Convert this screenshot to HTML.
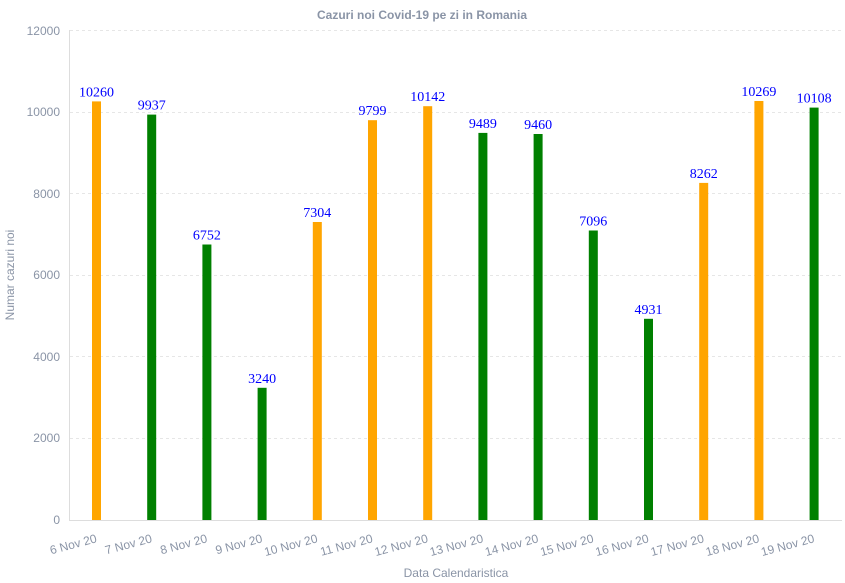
<!DOCTYPE html>
<html><head><style>body{margin:0;background:#fff}svg{display:block}</style></head><body>
<svg width="845" height="583" xmlns="http://www.w3.org/2000/svg">
<text x="422" y="19" text-anchor="middle" font-family="Liberation Sans, sans-serif" font-size="12" font-weight="bold" fill="#8a94a6">Cazuri noi Covid-19 pe zi in Romania</text>
<g stroke="#e6e6e6" stroke-dasharray="3,3" stroke-width="1">
<line x1="70" x2="842" y1="30.5" y2="30.5"/><line x1="70" x2="842" y1="112.5" y2="112.5"/><line x1="70" x2="842" y1="193.5" y2="193.5"/><line x1="70" x2="842" y1="275.5" y2="275.5"/><line x1="70" x2="842" y1="356.5" y2="356.5"/><line x1="70" x2="842" y1="438.5" y2="438.5"/>
</g>
<line x1="69.5" x2="69.5" y1="30" y2="520" stroke="#ddd"/>
<line x1="69" x2="842" y1="520.5" y2="520.5" stroke="#ddd"/>
<g font-family="Liberation Sans, sans-serif" font-size="12" fill="#8a94a6" text-anchor="end">
<text x="60" y="35">12000</text><text x="60" y="116">10000</text><text x="60" y="198">8000</text><text x="60" y="279">6000</text><text x="60" y="361">4000</text><text x="60" y="442">2000</text><text x="60" y="524">0</text>
</g>
<text transform="translate(14,275) rotate(-90)" text-anchor="middle" font-family="Liberation Sans, sans-serif" font-size="12" fill="#8a94a6">Numar cazuri noi</text>
<text x="456" y="577" text-anchor="middle" font-family="Liberation Sans, sans-serif" font-size="12" fill="#8a94a6">Data Calendaristica</text>
<g>
<rect x="92" y="101.4" width="9" height="418.6" fill="#FFA500"/>
<rect x="147.2" y="114.6" width="9" height="405.4" fill="#008000"/>
<rect x="202.4" y="244.5" width="9" height="275.5" fill="#008000"/>
<rect x="257.6" y="387.8" width="9" height="132.2" fill="#008000"/>
<rect x="312.8" y="222" width="9" height="298" fill="#FFA500"/>
<rect x="368" y="120.2" width="9" height="399.8" fill="#FFA500"/>
<rect x="423.2" y="106.2" width="9" height="413.8" fill="#FFA500"/>
<rect x="478.4" y="132.9" width="9" height="387.1" fill="#008000"/>
<rect x="533.6" y="134" width="9" height="386" fill="#008000"/>
<rect x="588.8" y="230.5" width="9" height="289.5" fill="#008000"/>
<rect x="644" y="318.8" width="9" height="201.2" fill="#008000"/>
<rect x="699.2" y="182.9" width="9" height="337.1" fill="#FFA500"/>
<rect x="754.4" y="101" width="9" height="419" fill="#FFA500"/>
<rect x="809.6" y="107.6" width="9" height="412.4" fill="#008000"/>
</g>
<g font-family="Liberation Serif, serif" font-size="14" fill="#0000ff" text-anchor="middle">
<text x="96.5" y="96.4">10260</text>
<text x="151.7" y="109.6">9937</text>
<text x="206.9" y="239.5">6752</text>
<text x="262.1" y="382.8">3240</text>
<text x="317.3" y="217">7304</text>
<text x="372.5" y="115.2">9799</text>
<text x="427.7" y="101.2">10142</text>
<text x="482.9" y="127.9">9489</text>
<text x="538.1" y="129">9460</text>
<text x="593.3" y="225.5">7096</text>
<text x="648.5" y="313.8">4931</text>
<text x="703.7" y="177.9">8262</text>
<text x="758.9" y="96">10269</text>
<text x="814.1" y="102.6">10108</text>
</g>
<g font-family="Liberation Sans, sans-serif" font-size="12" fill="#8a94a6" text-anchor="end">
<text transform="translate(97.5,542) rotate(-15)">6 Nov 20</text>
<text transform="translate(152.7,542) rotate(-15)">7 Nov 20</text>
<text transform="translate(207.9,542) rotate(-15)">8 Nov 20</text>
<text transform="translate(263.1,542) rotate(-15)">9 Nov 20</text>
<text transform="translate(318.3,542) rotate(-15)">10 Nov 20</text>
<text transform="translate(373.5,542) rotate(-15)">11 Nov 20</text>
<text transform="translate(428.7,542) rotate(-15)">12 Nov 20</text>
<text transform="translate(483.9,542) rotate(-15)">13 Nov 20</text>
<text transform="translate(539.1,542) rotate(-15)">14 Nov 20</text>
<text transform="translate(594.3,542) rotate(-15)">15 Nov 20</text>
<text transform="translate(649.5,542) rotate(-15)">16 Nov 20</text>
<text transform="translate(704.7,542) rotate(-15)">17 Nov 20</text>
<text transform="translate(759.9,542) rotate(-15)">18 Nov 20</text>
<text transform="translate(815.1,542) rotate(-15)">19 Nov 20</text>
</g>
</svg>
</body></html>
